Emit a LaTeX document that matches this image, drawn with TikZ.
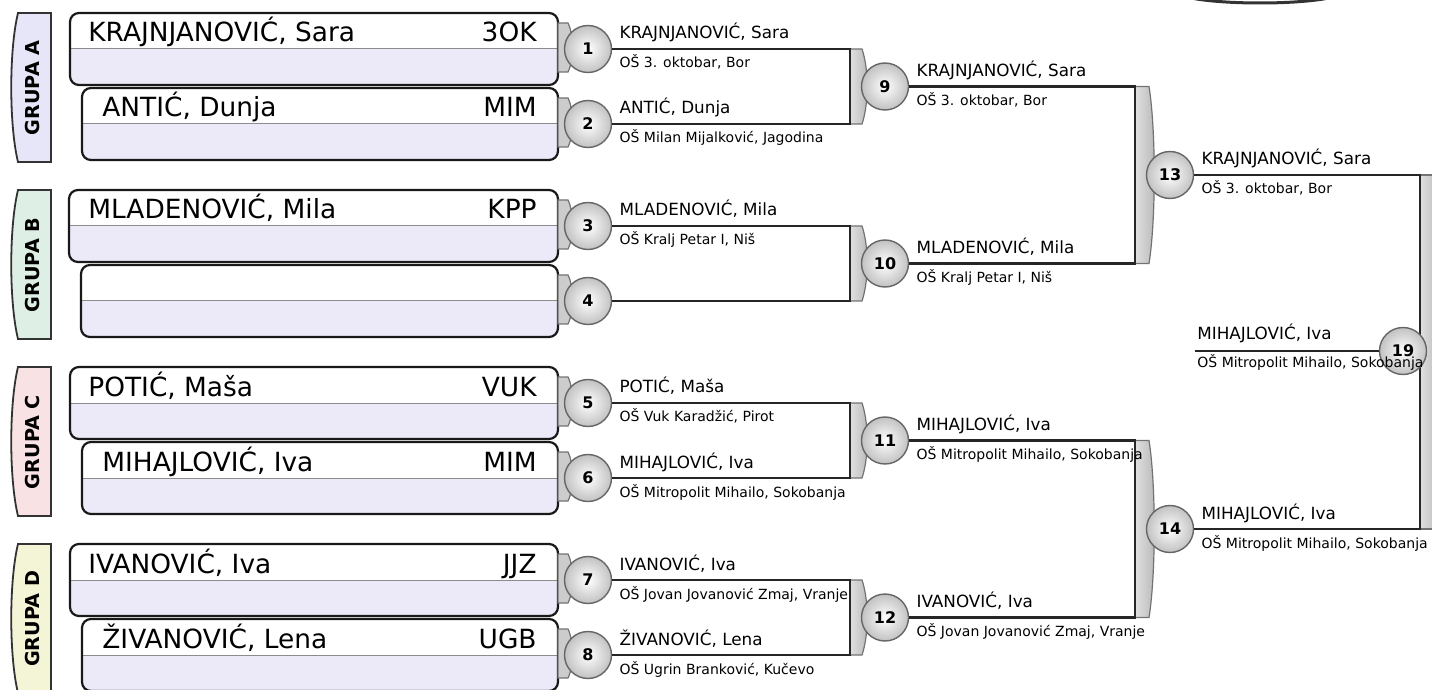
\documentclass[tikz,border=0pt]{standalone}
\usepackage{fontspec}
\setmainfont{DejaVu Sans}
\usepackage{tikz}
\usetikzlibrary{positioning}
\definecolor{boxlow}{RGB}{236,234,248}
\definecolor{grpA}{RGB}{230,230,248}
\definecolor{grpB}{RGB}{222,240,230}
\definecolor{grpC}{RGB}{248,226,228}
\definecolor{grpD}{RGB}{244,244,214}

\begin{document}
\begin{tikzpicture}[x=0.5pt, y=-0.5pt,
  pbox/.style={draw=black!90, line width=1.1pt, rounded corners=4.5pt, fill=white,
    path picture={\fill[boxlow, sharp corners] (path picture bounding box.west) rectangle (path picture bounding box.south east);
      \draw[black!45, line width=0.5pt, sharp corners] (path picture bounding box.west) -- (path picture bounding box.east);}},
  grp/.style={draw=black!80, line width=0.9pt},
  grptxt/.style={rotate=90, font=\fontsize{9.6}{11}\selectfont\bfseries},
  pname/.style={anchor=base west, inner sep=0pt, font=\fontsize{13.2}{15}\selectfont},
  pcode/.style={anchor=base east, inner sep=0pt, font=\fontsize{13.2}{15}\selectfont},
  tabpiece/.style={draw=black!55, fill=black!20, line width=0.6pt},
  bar/.style={draw=black!55, line width=0.6pt, left color=black!12, right color=black!28},
  mball/.style={circle, minimum size=23.5pt, inner sep=0pt, draw=black!60, line width=0.7pt,
    inner color=white, outer color=black!24, font=\fontsize{8}{9}\selectfont\bfseries},
  wire/.style={draw=black!85, line width=1.1pt},
  wname/.style={anchor=base west, inner sep=0pt, font=\fontsize{8.4}{10}\selectfont},
  wschool/.style={anchor=base west, inner sep=0pt, font=\fontsize{7}{8}\selectfont}]
\clip (0,0) rectangle (1432,690);

% group tabs
\draw[grp, fill=grpA] (51,13) -- (18,13) .. controls (9,50) and (9,125) .. (18,162) -- (51,162) -- cycle;
\draw[grp, fill=grpB] (51,190) -- (18,190) .. controls (9,227) and (9,302) .. (18,339) -- (51,339) -- cycle;
\draw[grp, fill=grpC] (51,367) -- (18,367) .. controls (9,404) and (9,479) .. (18,516) -- (51,516) -- cycle;
\draw[grp, fill=grpD] (51,544) -- (18,544) .. controls (9,581) and (9,656) .. (18,693) -- (51,693) -- cycle;
\node[grptxt] (gA) at (33,88) {GRUPA A};
\node[grptxt] (gB) at (33,265) {GRUPA B};
\node[grptxt] (gC) at (33,442) {GRUPA C};
\node[grptxt] (gD) at (33,619) {GRUPA D};

% player boxes
\draw[pbox] (70,13) rectangle (558,85);
\draw[pbox] (82,88) rectangle (558,160);
\draw[pbox] (69,190) rectangle (558,262);
\draw[pbox] (81,265) rectangle (558,337);
\draw[pbox] (70,367) rectangle (558,439);
\draw[pbox] (82,442) rectangle (558,514);
\draw[pbox] (70,544) rectangle (558,616);
\draw[pbox] (82,619) rectangle (558,691);
\node[pname] (p1) at (88,42) {KRAJNJANOVIĆ, Sara};   \node[pcode] (c1) at (537,42) {3OK};
\node[pname] (p2) at (102,117) {ANTIĆ, Dunja};       \node[pcode] (c2) at (537,117) {MIM};
\node[pname] (p3) at (88,219) {MLADENOVIĆ, Mila};    \node[pcode] (c3) at (537,219) {KPP};
\node[pname] (p5) at (88,396) {POTIĆ, Maša};         \node[pcode] (c5) at (537,396) {VUK};
\node[pname] (p6) at (102,471) {MIHAJLOVIĆ, Iva};    \node[pcode] (c6) at (537,471) {MIM};
\node[pname] (p7) at (88,573) {IVANOVIĆ, Iva};       \node[pcode] (c7) at (537,573) {JJZ};
\node[pname] (p8) at (102,648) {ŽIVANOVIĆ, Lena};    \node[pcode] (c8) at (537,648) {UGB};

% small pieces between boxes and first circles
\draw[tabpiece] (558,23) -- (568,23) .. controls (574,35) and (574,60) .. (568,72) -- (558,72) -- cycle;
\draw[tabpiece] (558,98) -- (568,98) .. controls (574,110) and (574,135) .. (568,147) -- (558,147) -- cycle;
\draw[tabpiece] (558,200) -- (568,200) .. controls (574,212) and (574,237) .. (568,249) -- (558,249) -- cycle;
\draw[tabpiece] (558,275) -- (568,275) .. controls (574,287) and (574,312) .. (568,324) -- (558,324) -- cycle;
\draw[tabpiece] (558,377) -- (568,377) .. controls (574,389) and (574,414) .. (568,426) -- (558,426) -- cycle;
\draw[tabpiece] (558,452) -- (568,452) .. controls (574,464) and (574,489) .. (568,501) -- (558,501) -- cycle;
\draw[tabpiece] (558,554) -- (568,554) .. controls (574,566) and (574,591) .. (568,603) -- (558,603) -- cycle;
\draw[tabpiece] (558,629) -- (568,629) .. controls (574,641) and (574,666) .. (568,678) -- (558,678) -- cycle;

% brackets
\draw[bar] (850,49) -- (862,49) .. controls (869,70) and (869,103) .. (862,124) -- (850,124) -- cycle;
\draw[bar] (850,226) -- (862,226) .. controls (869,247) and (869,280) .. (862,301) -- (850,301) -- cycle;
\draw[bar] (850,403) -- (862,403) .. controls (869,424) and (869,457) .. (862,478) -- (850,478) -- cycle;
\draw[bar] (850,580) -- (862,580) .. controls (869,601) and (869,634) .. (862,655) -- (850,655) -- cycle;
\draw[bar] (1135,86.5) -- (1149,86.5) .. controls (1156,130) and (1156,220) .. (1149,263.5) -- (1135,263.5) -- cycle;
\draw[bar] (1135,440.5) -- (1149,440.5) .. controls (1156,484) and (1156,574) .. (1149,617.5) -- (1135,617.5) -- cycle;
\draw[bar] (1420,175) -- (1440,175) -- (1440,529) -- (1420,529) -- cycle;

% matches
\node[mball] (m1) at (588,49) {1};
\node[mball] (m2) at (588,124) {2};
\node[mball] (m3) at (588,226) {3};
\node[mball] (m4) at (588,301) {4};
\node[mball] (m5) at (588,403) {5};
\node[mball] (m6) at (588,478) {6};
\node[mball] (m7) at (588,580) {7};
\node[mball] (m8) at (588,655) {8};
\coordinate (j9) at (850,86.5);
\coordinate (j10) at (850,263.5);
\coordinate (j11) at (850,440.5);
\coordinate (j12) at (850,617.5);
\coordinate (j13) at (1135,175);
\coordinate (j14) at (1135,529);
\coordinate (jf) at (1420,352);
\coordinate (s19) at (1195,351);
\draw[wire] (m1) -| (j9) |- (m2);
\draw[wire] (m3) -| (j10) |- (m4);
\draw[wire] (m5) -| (j11) |- (m6);
\draw[wire] (m7) -| (j12) |- (m8);
\node[mball] (m9) at (885,86.5) {9};
\node[mball] (m10) at (885,263.5) {10};
\node[mball] (m11) at (885,440.5) {11};
\node[mball] (m12) at (885,617.5) {12};
\draw[wire] (m9) -| (j13) |- (m10);
\draw[wire] (m11) -| (j14) |- (m12);
\node[mball] (m13) at (1170,175) {13};
\node[mball] (m14) at (1170,529) {14};
\draw[wire] (m13) -| (jf) |- (m14);
\node[mball] (m19) at (1403,351) {19};
\draw[wire] (s19) -- (m19);

% winners
\node[wname] (n1) at ([shift={(3.5pt,5pt)}]m1.east) {KRAJNJANOVIĆ, Sara};
\node[wschool] (s1) at ([shift={(3.5pt,-9.5pt)}]m1.east) {OŠ 3. oktobar, Bor};
\node[wname] (n2) at ([shift={(3.5pt,5pt)}]m2.east) {ANTIĆ, Dunja};
\node[wschool] (s2) at ([shift={(3.5pt,-9.5pt)}]m2.east) {OŠ Milan Mijalković, Jagodina};
\node[wname] (n3) at ([shift={(3.5pt,5pt)}]m3.east) {MLADENOVIĆ, Mila};
\node[wschool] (s3) at ([shift={(3.5pt,-9.5pt)}]m3.east) {OŠ Kralj Petar I, Niš};
\node[wname] (n5) at ([shift={(3.5pt,5pt)}]m5.east) {POTIĆ, Maša};
\node[wschool] (s5) at ([shift={(3.5pt,-9.5pt)}]m5.east) {OŠ Vuk Karadžić, Pirot};
\node[wname] (n6) at ([shift={(3.5pt,5pt)}]m6.east) {MIHAJLOVIĆ, Iva};
\node[wschool] (s6) at ([shift={(3.5pt,-9.5pt)}]m6.east) {OŠ Mitropolit Mihailo, Sokobanja};
\node[wname] (n7) at ([shift={(3.5pt,5pt)}]m7.east) {IVANOVIĆ, Iva};
\node[wschool] (s7) at ([shift={(3.5pt,-9.5pt)}]m7.east) {OŠ Jovan Jovanović Zmaj, Vranje};
\node[wname] (n8) at ([shift={(3.5pt,5pt)}]m8.east) {ŽIVANOVIĆ, Lena};
\node[wschool] (s8) at ([shift={(3.5pt,-9.5pt)}]m8.east) {OŠ Ugrin Branković, Kučevo};
\node[wname] (n9) at ([shift={(3.5pt,5pt)}]m9.east) {KRAJNJANOVIĆ, Sara};
\node[wschool] (s9) at ([shift={(3.5pt,-9.5pt)}]m9.east) {OŠ 3. oktobar, Bor};
\node[wname] (n10) at ([shift={(3.5pt,5pt)}]m10.east) {MLADENOVIĆ, Mila};
\node[wschool] (s10) at ([shift={(3.5pt,-9.5pt)}]m10.east) {OŠ Kralj Petar I, Niš};
\node[wname] (n11) at ([shift={(3.5pt,5pt)}]m11.east) {MIHAJLOVIĆ, Iva};
\node[wschool] (s11) at ([shift={(3.5pt,-9.5pt)}]m11.east) {OŠ Mitropolit Mihailo, Sokobanja};
\node[wname] (n12) at ([shift={(3.5pt,5pt)}]m12.east) {IVANOVIĆ, Iva};
\node[wschool] (s12) at ([shift={(3.5pt,-9.5pt)}]m12.east) {OŠ Jovan Jovanović Zmaj, Vranje};
\node[wname] (n13) at ([shift={(3.5pt,5pt)}]m13.east) {KRAJNJANOVIĆ, Sara};
\node[wschool] (s13) at ([shift={(3.5pt,-9.5pt)}]m13.east) {OŠ 3. oktobar, Bor};
\node[wname] (n14) at ([shift={(3.5pt,5pt)}]m14.east) {MIHAJLOVIĆ, Iva};
\node[wschool] (s14) at ([shift={(3.5pt,-9.5pt)}]m14.east) {OŠ Mitropolit Mihailo, Sokobanja};
\node[wname] (n19) at ([shift={(1pt,5.5pt)}]s19) {MIHAJLOVIĆ, Iva};
\node[wschool] (s19t) at ([shift={(1pt,-8pt)}]s19) {OŠ Mitropolit Mihailo, Sokobanja};

% bit of the final
\draw[line width=1.5pt, black!80] (1260,-9) ellipse [x radius=85, y radius=12];
\end{tikzpicture}
\end{document}
